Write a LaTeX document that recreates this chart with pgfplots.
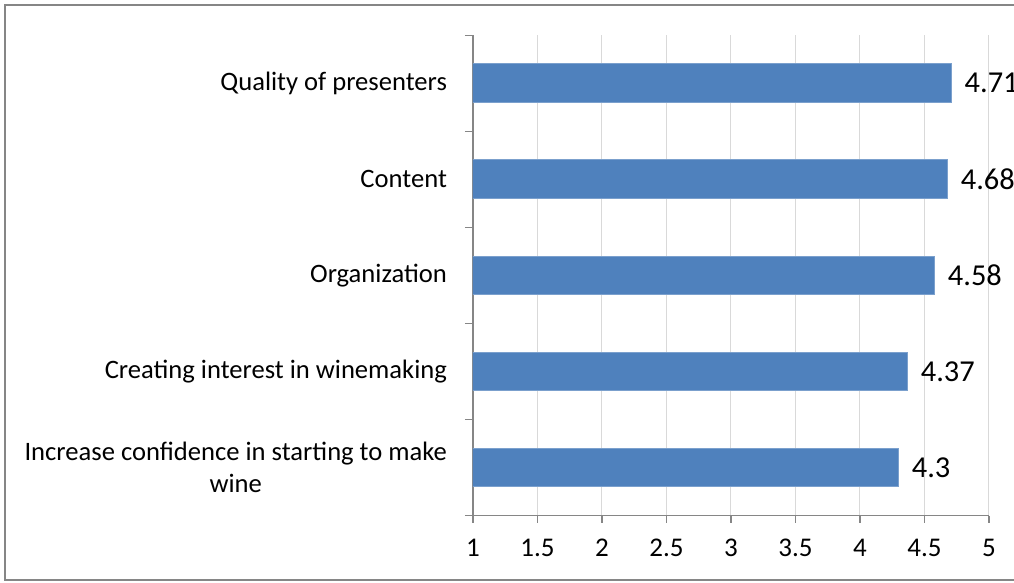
\documentclass[border=0pt]{standalone}
\usepackage{fontspec}
\setmainfont{Carlito}
\usepackage{pgfplots}
\pgfplotsset{compat=1.18}
\definecolor{barblue}{RGB}{79,129,189}
\definecolor{axgray}{RGB}{134,134,134}
\definecolor{gridgray}{RGB}{217,217,217}
\begin{document}
\begin{tikzpicture}[x=1pt,y=1pt]
\path[use as bounding box] (0,0) rectangle (507,291.5);
\draw[axgray, line width=1pt] (2.5,1.5) rectangle (520,289);
\begin{axis}[
  at={(236.5pt,33.65pt)}, anchor=south west,
  scale only axis, width=258pt, height=240.3pt,
  xbar, bar width=19.3pt,
  xmin=1, xmax=5, ymin=0.5, ymax=5.5,
  axis lines=left, axis line style={-, draw=axgray, line width=0.6pt},
  xtick={1,1.5,2,2.5,3,3.5,4,4.5,5},
  xticklabels={1,1.5,2,2.5,3,3.5,4,4.5,5},
  xmajorgrids, major grid style={gridgray, line width=0.5pt},
  ytick={1,2,3,4,5},
  yticklabels={{Increase confidence in starting to make\\wine},{Creating interest in winemaking},{Organization},{Content},{Quality of presenters}},
  minor ytick={0.5,1.5,2.5,3.5,4.5,5.5},
  y tick style={draw=none},
  minor y tick style={draw=axgray, line width=0.6pt},
  minor tick length=4pt,
  x tick style={draw=axgray, line width=0.6pt},
  major tick length=3.5pt,
  tick align=outside,
  xtick pos=bottom, ytick pos=left,
  yticklabel style={align=center, font=\fontsize{13.3}{16}\selectfont, xshift=-6pt},
  xticklabel style={font=\fontsize{13.5}{16}\selectfont, yshift=-4.5pt},
  /pgf/number format/assume math mode=true,
  nodes near coords,
  nodes near coords style={anchor=west, font=\fontsize{15.2}{18}\selectfont, xshift=3pt, black,
    /pgf/number format/fixed, /pgf/number format/precision=2},
]
\addplot[fill=barblue, draw=barblue!75!white, line width=0.5pt] coordinates {
  (4.3,1) (4.37,2) (4.58,3) (4.68,4) (4.71,5)
};
\end{axis}
\end{tikzpicture}
\end{document}
